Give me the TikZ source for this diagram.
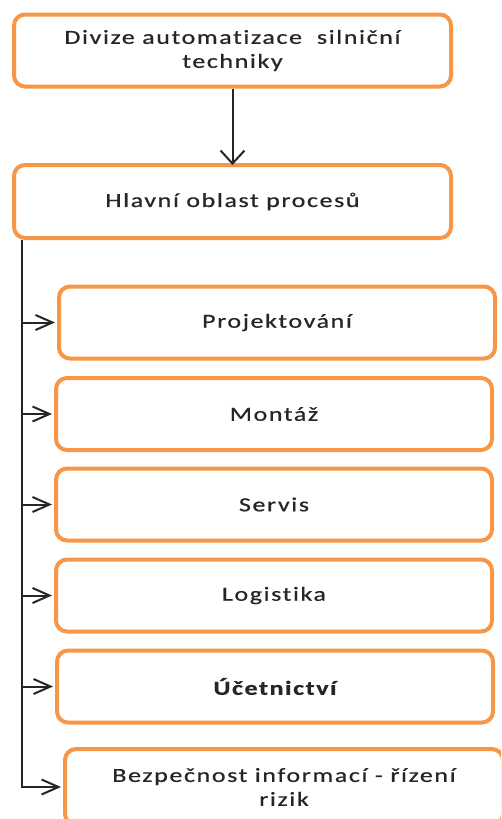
\documentclass[tikz,border=0pt]{standalone}
\usepackage{fontspec}
\setmainfont{Carlito}[FakeStretch=1.3, LetterSpace=8, FakeBold=0.6, Ligatures=NoCommon]
\usetikzlibrary{arrows.meta}
\definecolor{boxorange}{HTML}{F79646}
\definecolor{ink}{HTML}{262626}
\begin{document}
\begin{tikzpicture}[x=1pt, y=-1pt,
  procbox/.style={draw=boxorange, line width=4pt, rounded corners=11pt,
    fill=white, inner sep=0pt, align=center, text=ink,
    font=\fontsize{20}{24}\selectfont},
  topbox/.style={procbox, minimum width=437pt, minimum height=72pt},
  subbox/.style={procbox, minimum width=436pt, minimum height=72pt},
  link/.style={draw=ink, line width=2pt},
  downtip/.style={-{Straight Barb[length=13pt, width=24pt, line width=2pt]}},
  sidetip/.style={-{Straight Barb[length=17pt, width=15pt, line width=2pt]}},
]
\path[use as bounding box] (0,0) rectangle (501,819);
\clip (0,0) rectangle (501,819);

% upper level
\node[topbox] (div) at (232.5,50.5) {Divize automatizace~ silniční\\techniky};
\node[topbox, minimum height=73pt] (main) at (232.5,201.5) {Hlavní oblast procesů};

% process areas
\node[subbox] (proj) at (277,322.5) {Projektování};
\node[subbox] (mont) at (274,414) {Montáž};
\node[subbox] (serv) at (274,504.5) {Servis};
\node[subbox] (logi) at (274,595.5) {Logistika};
\node[subbox] (ucet) at (275,686.5) {\bfseries Účetnictví};
\node[procbox, minimum width=438pt, minimum height=76pt] (bezp) at (284,787)
  {Bezpečnost informací - řízení\\rizik};

% connectors
\draw[link, downtip] (div.south) -- ([yshift=-2pt]main.north);
\coordinate (trunk) at ([xshift=10pt]main.south west);
\draw[link, sidetip] (trunk) |- ([xshift=-2pt]bezp.west);
\foreach \n in {proj, mont, serv, logi, ucet}
  \draw[link, sidetip] (trunk |- \n.west) -- ([xshift=-2pt]\n.west);
\end{tikzpicture}
\end{document}
